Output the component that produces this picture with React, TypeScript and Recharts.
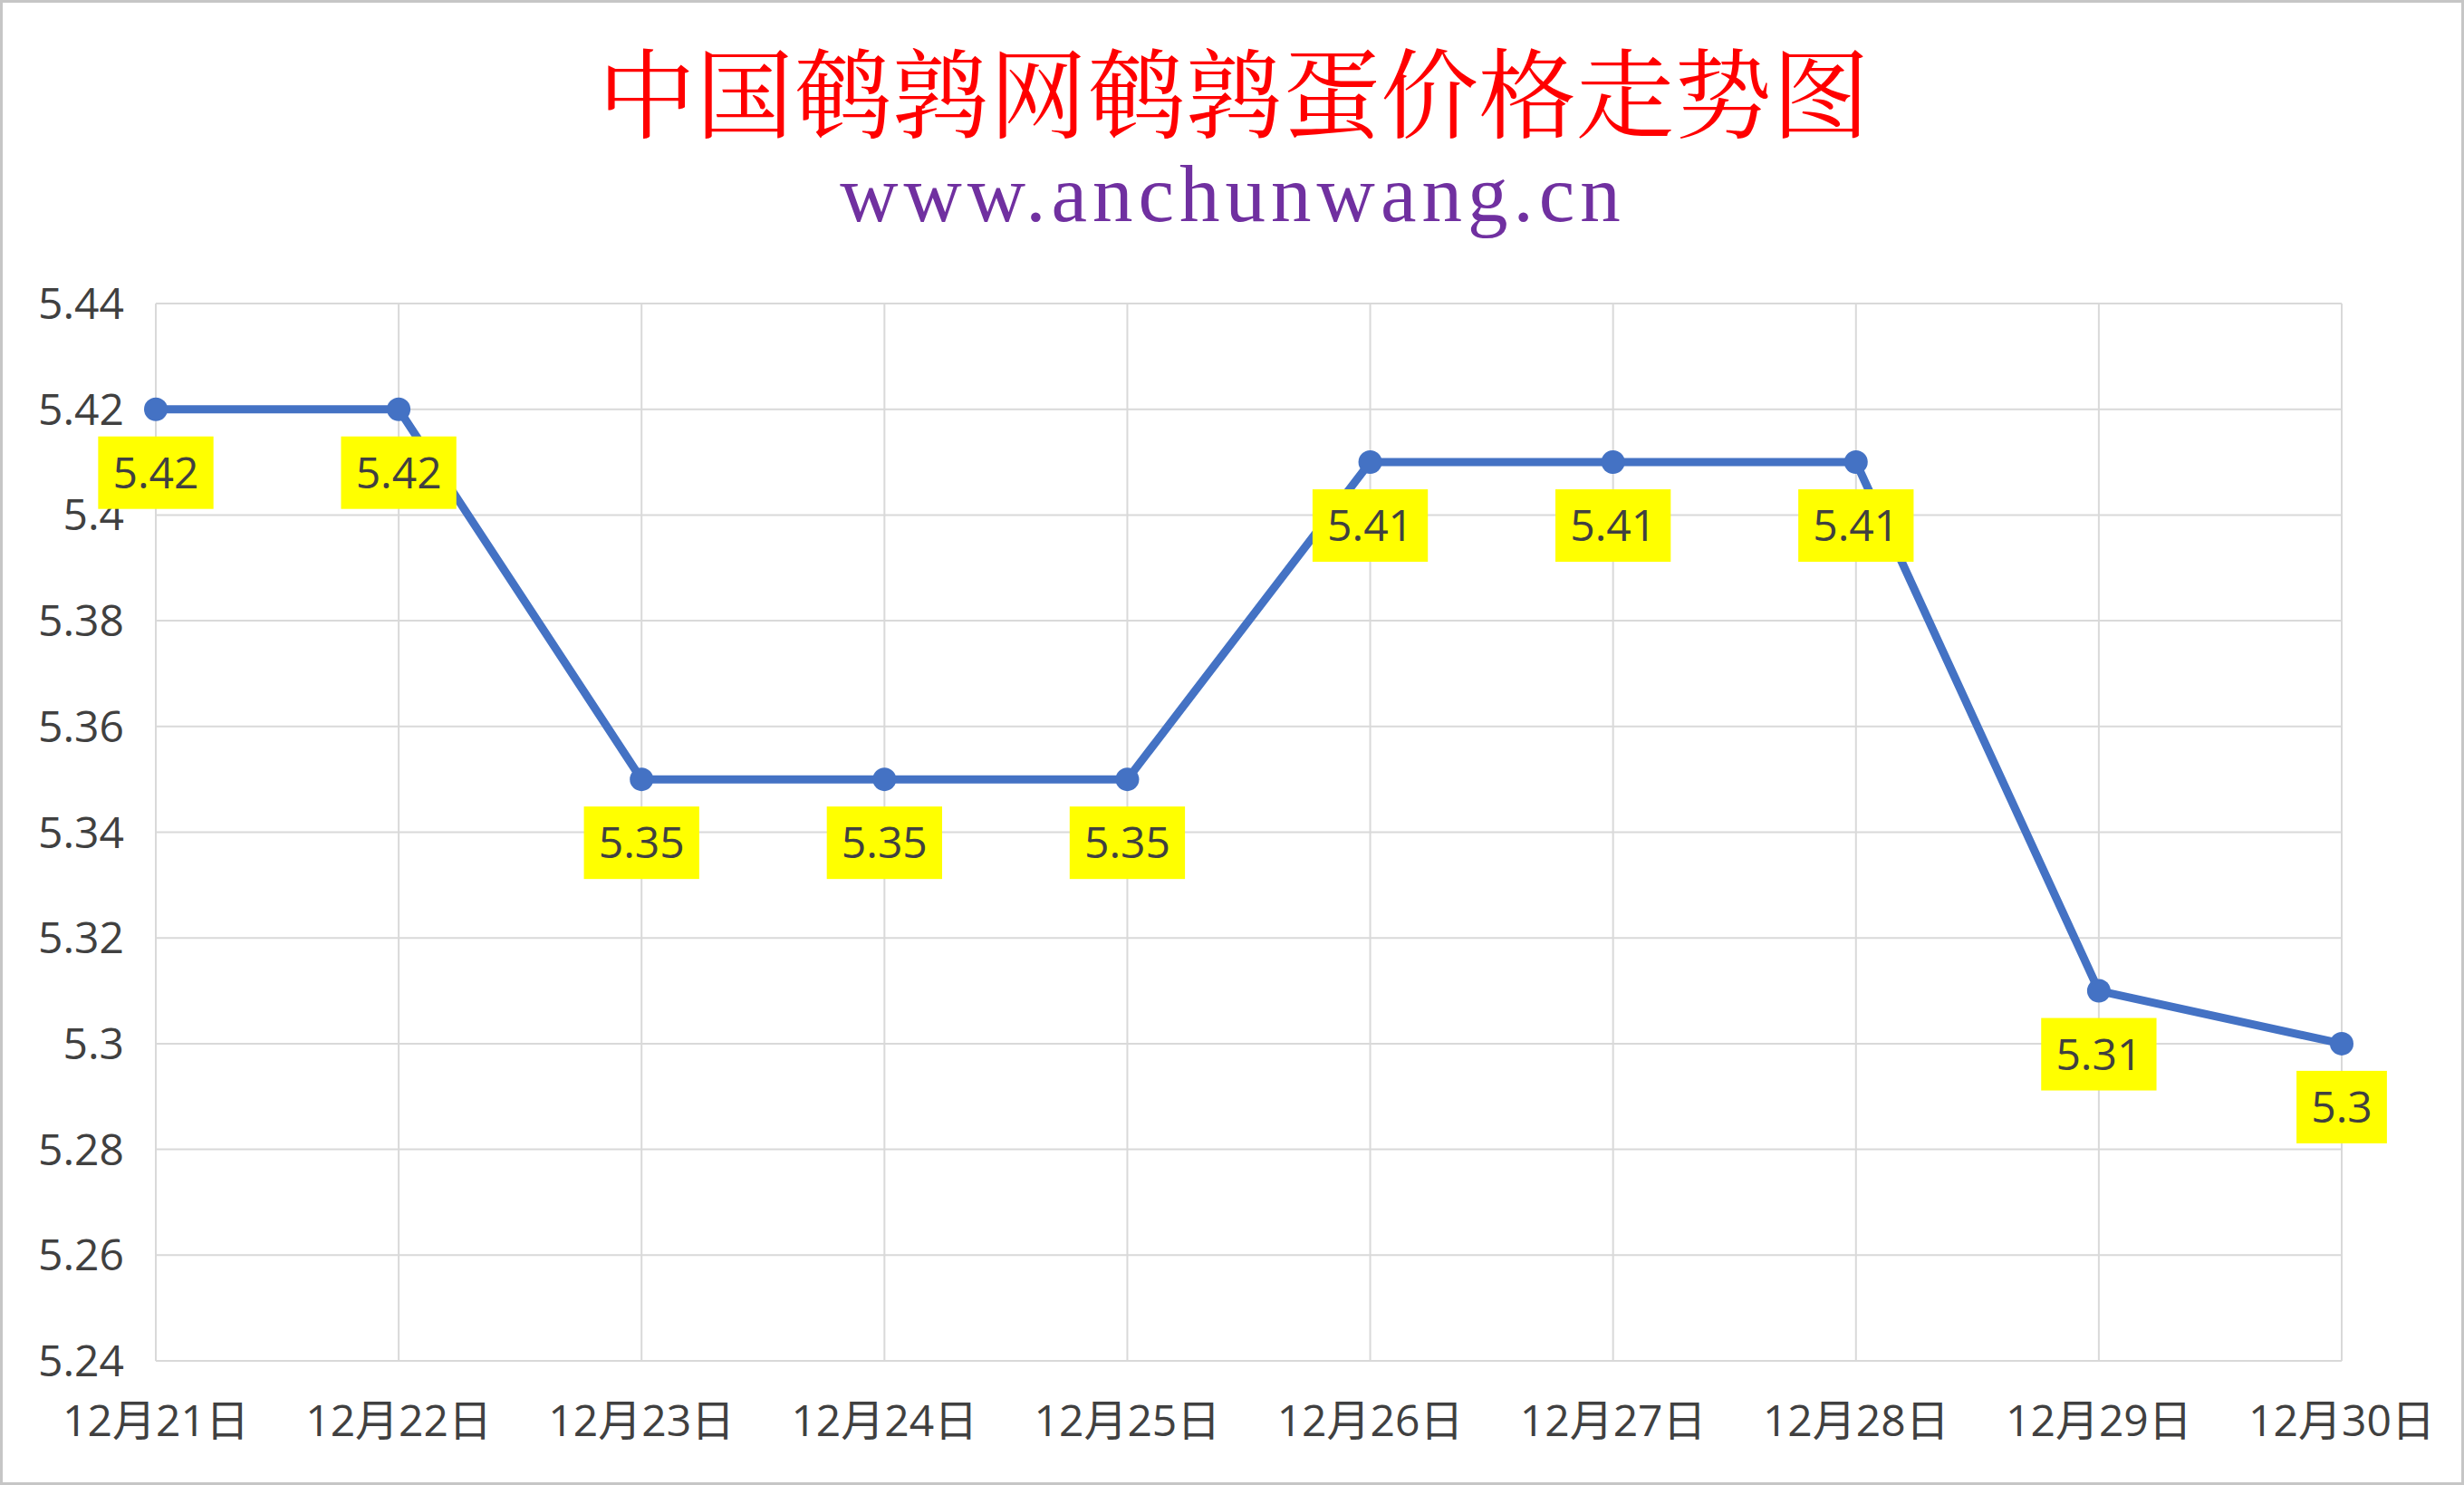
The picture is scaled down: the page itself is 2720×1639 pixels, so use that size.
import React from "react";
import { LineChart, Line, XAxis, YAxis, CartesianGrid, LabelList } from "recharts";

const categories = ["12月21日", "12月22日", "12月23日", "12月24日", "12月25日", "12月26日", "12月27日", "12月28日", "12月29日", "12月30日"];
const prices = [5.42, 5.42, 5.35, 5.35, 5.35, 5.41, 5.41, 5.41, 5.31, 5.3];
const yTicks = [5.24, 5.26, 5.28, 5.3, 5.32, 5.34, 5.36, 5.38, 5.4, 5.42, 5.44];
const titleText = "中国鹌鹑网鹌鹑蛋价格走势图";
const subtitleText = "www.anchunwang.cn";

const data = categories.map((c, i) => ({ date: c, price: prices[i] }));

const fmt = (v: number) => String(Number(v.toFixed(2)));
const FONT = "'Open Sans', 'Noto Sans CJK SC', sans-serif";

const DataLabel = (props: any) => {
  const { x, y, value } = props;
  if (x == null || y == null) return null;
  const s = fmt(Number(value));
  let tw = 0;
  for (const ch of s) tw += ch === "." ? 12.8 : 27.5;
  const w = tw + 32;
  const h = 80;
  const cy = y + 70;
  return (
    <g>
      <rect x={x - w / 2} y={cy - h / 2} width={w} height={h} fill="#FFFF00" />
      <text x={x} y={cy + 17} textAnchor="middle" fill="#404040" fontSize={48} fontFamily={FONT}>
        {s}
      </text>
    </g>
  );
};

export default function App() {
  return (
    <div style={{ position: "absolute", left: 0, top: 0, width: 2720, height: 1639, background: "#FFFFFF" }}>
      <div
        style={{
          position: "absolute",
          left: 0,
          top: 44,
          width: 2724,
          textAlign: "center",
          fontSize: 108,
          lineHeight: "108px",
          color: "#FF0000",
          fontFamily: "'Noto Serif CJK SC', 'Noto Sans CJK SC', serif",
          whiteSpace: "nowrap",
        }}
      >
        {titleText}
      </div>
      <div
        style={{
          position: "absolute",
          left: 0,
          top: 170,
          width: 2722,
          textAlign: "center",
          fontSize: 89,
          lineHeight: "89px",
          letterSpacing: 6,
          color: "#7030A0",
          fontFamily: "'Liberation Serif', 'Times New Roman', serif",
          whiteSpace: "nowrap",
        }}
      >
        {subtitleText}
      </div>
      <div style={{ position: "absolute", left: 0, top: 0 }}>
        <LineChart width={2720} height={1639} data={data} margin={{ top: 335, right: 135, bottom: 57, left: 72 }}>
          <CartesianGrid stroke="#D9D9D9" strokeWidth={2} />
          <XAxis
            dataKey="date"
            height={80}
            axisLine={{ stroke: "#D9D9D9", strokeWidth: 2 }}
            tickLine={false}
            tickSize={0}
            tickMargin={49}
            interval={0}
            tick={{ fill: "#404040", fontSize: 48, fontFamily: FONT }}
          />
          <YAxis
            width={100}
            domain={[5.24, 5.44]}
            ticks={yTicks}
            allowDataOverflow
            axisLine={false}
            tickLine={false}
            tickSize={0}
            tickMargin={35}
            tickFormatter={fmt}
            tick={{ fill: "#404040", fontSize: 48, fontFamily: FONT }}
          />
          <Line
            type="linear"
            dataKey="price"
            stroke="#4472C4"
            strokeWidth={9}
            dot={{ r: 13, fill: "#4472C4", stroke: "none" }}
            activeDot={false}
            isAnimationActive={false}
          >
            <LabelList dataKey="price" content={DataLabel} />
          </Line>
        </LineChart>
      </div>
      <div
        style={{
          position: "absolute",
          left: 0,
          top: 0,
          width: 2720,
          height: 1639,
          boxSizing: "border-box",
          border: "3px solid #C6C6C6",
          pointerEvents: "none",
        }}
      />
    </div>
  );
}
